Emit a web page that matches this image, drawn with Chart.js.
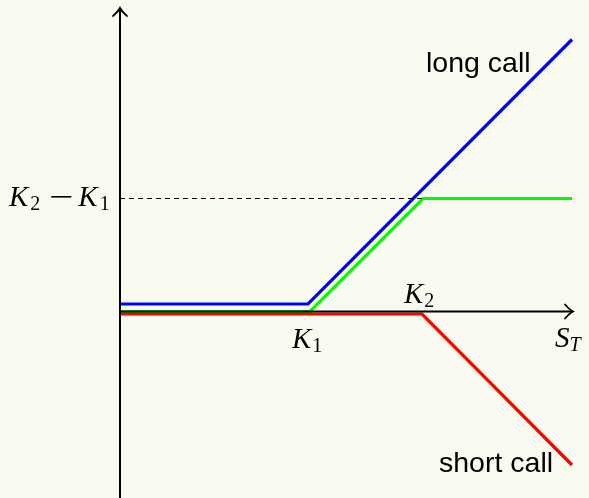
<!DOCTYPE html>
<html>
<head>
<meta charset="utf-8">
<script src="https://cdn.jsdelivr.net/npm/chart.js@4.4.1/dist/chart.umd.min.js"></script>
<style>
  html, body { margin: 0; padding: 0; background: #fafbf0; }
  #wrap { width: 589px; height: 498px; }
</style>
</head>
<body>
<div id="wrap"><canvas id="chart1"></canvas></div>
<script>
// payoff lines (S_T on x, payoff on y), slightly offset so they don't overlap
const longCallX = [0, 1.88, 4.52];
const longCallY = [0.075, 0.075, 2.72];
const spreadX = [0, 1.9, 3.03, 4.52];
const spreadY = [0, 0, 1.13, 1.13];
const shortCallX = [0, 3.02, 4.52];
const shortCallY = [-0.025, -0.025, -1.535];

// strikes and the cap of the spread
const K1 = 1.9;
const K2 = 3.02;
const capLevel = 1.13;

// axes extent
const xAxisEnd = 4.53;
const yAxisTop = 3.035;
const yAxisBottom = -2;

function pts(xs, ys) {
    return xs.map((x, i) => ({ x: x, y: ys[i] }));
}

const data = {
    datasets: [
        {
            label: 'y axis',
            data: pts([0, 0], [yAxisBottom, yAxisTop]),
            borderColor: '#000',
            borderWidth: 2
        },
        {
            label: 'x axis',
            data: pts([0, xAxisEnd], [0, 0]),
            borderColor: '#000',
            borderWidth: 1.8
        },
        {
            label: 'cap',
            data: pts([0, K2], [capLevel, capLevel]),
            borderColor: '#000',
            borderWidth: 1,
            borderDash: [5, 4]
        },
        {
            label: 'short call',
            data: pts(shortCallX, shortCallY),
            borderColor: 'rgb(255,0,0)',
            borderWidth: 3.2
        },
        {
            label: 'spread',
            data: pts(spreadX, spreadY),
            borderColor: 'rgb(0,255,0)',
            borderWidth: 3.2
        },
        {
            label: 'long call',
            data: pts(longCallX, longCallY),
            borderColor: 'rgb(0,0,255)',
            borderWidth: 3.2
        }
    ]
};

// K with subscript, LaTeX-ish
function mathText(ctx, x, y, parts) {
    let cx = x;
    parts.forEach(p => {
        if (p.minus) {
            ctx.fillRect(cx, y - 10, p.minus, 1.6);
            cx += p.minus + (p.gap || 0);
            return;
        }
        ctx.font = p.font;
        ctx.fillText(p.t, cx, y + (p.dy || 0));
        cx += ctx.measureText(p.t).width + (p.gap || 0);
    });
    return cx - x;
}

const it = 'italic 29px "Liberation Serif"';
const sub = '20px "Liberation Serif"';
const subIt = 'italic 20px "Liberation Serif"';

const decor = {
    id: 'decor',
    afterDatasetsDraw(chart) {
        const ctx = chart.ctx;
        const xs = chart.scales.x, ys = chart.scales.y;
        const ox = xs.getPixelForValue(0), oy = ys.getPixelForValue(0);
        ctx.save();
        ctx.strokeStyle = '#000';
        ctx.lineWidth = 1.8;
        ctx.lineCap = 'round';
        // arrow heads
        const tx = xs.getPixelForValue(xAxisEnd);
        ctx.beginPath();
        ctx.moveTo(tx - 8, oy - 7);
        ctx.quadraticCurveTo(tx - 3, oy - 1.5, tx, oy);
        ctx.quadraticCurveTo(tx - 3, oy + 1.5, tx - 8, oy + 7);
        ctx.stroke();
        const ty = ys.getPixelForValue(yAxisTop);
        ctx.beginPath();
        ctx.moveTo(ox - 7, ty + 8);
        ctx.quadraticCurveTo(ox - 1.5, ty + 3, ox, ty);
        ctx.quadraticCurveTo(ox + 1.5, ty + 3, ox + 7, ty + 8);
        ctx.stroke();

        ctx.fillStyle = '#000';
        ctx.textBaseline = 'alphabetic';
        ctx.textAlign = 'left';
        // K2 - K1 at the cap level
        const capY = ys.getPixelForValue(capLevel);
        mathText(ctx, 9, capY + 7.5, [
            { t: 'K', font: it, gap: 2 },
            { t: '2', font: sub, dy: 4, gap: 11 },
            { minus: 20, gap: 7 },
            { t: 'K', font: it, gap: 2 },
            { t: '1', font: sub, dy: 4 }
        ]);
        // K1 below axis
        const k1 = xs.getPixelForValue(K1);
        mathText(ctx, k1 - 18, oy + 36.5, [
            { t: 'K', font: it, gap: 1 },
            { t: '1', font: sub, dy: 4 }
        ]);
        // K2 above axis
        const k2 = xs.getPixelForValue(K2);
        mathText(ctx, k2 - 18, oy - 8.5, [
            { t: 'K', font: it, gap: 1 },
            { t: '2', font: sub, dy: 4 }
        ]);
        // S_T
        mathText(ctx, tx - 18, oy + 35.5, [
            { t: 'S', font: it, gap: 0 },
            { t: 'T', font: subIt, dy: 4 }
        ]);
        // curve labels
        ctx.font = '28.5px "Liberation Sans"';
        ctx.fillText('long call', xs.getPixelForValue(3.06), ys.getPixelForValue(2.395));
        ctx.fillText('short call', xs.getPixelForValue(3.19), ys.getPixelForValue(-1.605));
        ctx.restore();
    }
};

const options = {
    responsive: true,
    maintainAspectRatio: false,
    animation: false,
    layout: { padding: 0 },
    elements: {
        point: { radius: 0 },
        line: { tension: 0, borderCapStyle: 'butt', borderJoinStyle: 'miter' }
    },
    plugins: {
        legend: { display: false },
        tooltip: { enabled: false }
    },
    scales: {
        x: { type: 'linear', min: -1.2, max: 4.69, display: false },
        y: { type: 'linear', min: -1.865, max: 3.115, display: false }
    }
};

const ctx = document.getElementById('chart1').getContext('2d');
const myChart = new Chart(ctx, {
    type: 'line',
    data: data,
    options: options,
    plugins: [decor]
});
</script>
</body>
</html>
